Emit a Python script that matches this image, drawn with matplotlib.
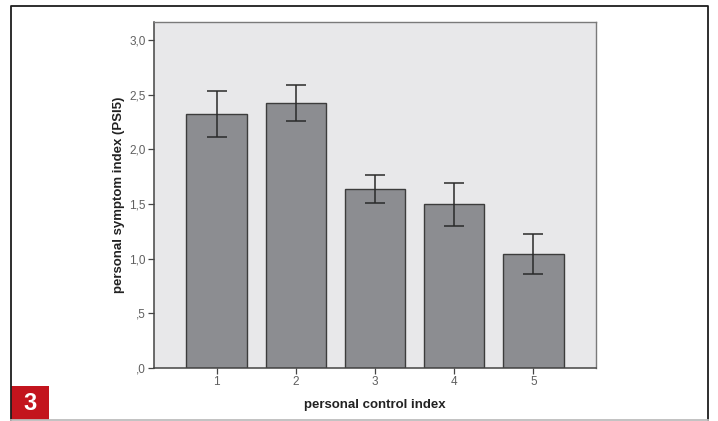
import matplotlib.pyplot as plt
from matplotlib.patches import Rectangle
from matplotlib.lines import Line2D

plt.rcParams['font.family'] = ['Liberation Sans', 'DejaVu Sans']

# personal control index groups and mean PSI5 with error bar limits
groups = [1, 2, 3, 4, 5]
means = [2.32, 2.42, 1.64, 1.50, 1.04]
err_low = [2.11, 2.255, 1.51, 1.30, 0.86]
err_high = [2.53, 2.585, 1.765, 1.69, 1.23]
yticks = [0.0, 0.5, 1.0, 1.5, 2.0, 2.5, 3.0]
ytick_labels = [',0', ',5', '1,0', '1,5', '2,0', '2,5', '3,0']

fig = plt.figure(figsize=(7.18, 4.21), dpi=100)
ax = fig.add_axes([154 / 718, 53 / 421, 442 / 718, 346 / 421])
ax.set_facecolor('#e8e8ea')

yerr = [[m - lo for m, lo in zip(means, err_low)],
        [hi - m for m, hi in zip(means, err_high)]]
ax.bar(groups, means, width=0.76, color='#8c8d91', edgecolor='#3c3c3c', linewidth=1.0, zorder=2)
ax.errorbar(groups, means, yerr=yerr, fmt='none', ecolor='#2a2a2a', elinewidth=1.1,
            capsize=7, capthick=1.1, zorder=3)

ax.set_xlim(0.21, 5.79)
ax.set_ylim(0, 3.165)
ax.set_xticks(groups)
ax.set_xticklabels([str(g) for g in groups])
ax.set_yticks(yticks)
ax.set_yticklabels(ytick_labels)
ax.tick_params(axis='both', colors='#444444', labelcolor='#606060', labelsize=8.5, length=4, width=0.9, pad=2)

for side in ['left', 'bottom']:
    ax.spines[side].set_color('#444444')
    ax.spines[side].set_linewidth(1.1)
for side in ['top', 'right']:
    ax.spines[side].set_color('#7a7a7a')
    ax.spines[side].set_linewidth(1.0)

ax.set_xlabel('personal control index', fontsize=9.5, fontweight='bold', color='#222222', labelpad=8)
ax.set_ylabel('personal symptom index (PSI5)', fontsize=9.5, fontweight='bold', color='#222222', labelpad=3)

# outer frame
W, H = 718, 421
fig.add_artist(Line2D([11 / W, 11 / W, 708 / W, 708 / W], [1 - 420 / H, 1 - 6 / H, 1 - 6 / H, 1 - 420 / H],
                      transform=fig.transFigure, color='#1e1e1e', linewidth=1.3))
fig.add_artist(Line2D([11 / W, 708 / W], [1 - 419.5 / H, 1 - 419.5 / H],
                      transform=fig.transFigure, color='#bdbdbd', linewidth=1.3))

# figure number box
fig.add_artist(Rectangle((11 / W, 1 - 420 / H), 38 / W, 34 / H, transform=fig.transFigure,
                         facecolor='#c3141d', edgecolor='none'))
fig.text(30 / W, 1 - 403 / H, '3', color='white', fontsize=17, fontweight='bold',
         ha='center', va='center')

fig.savefig('out.png', dpi=100)
